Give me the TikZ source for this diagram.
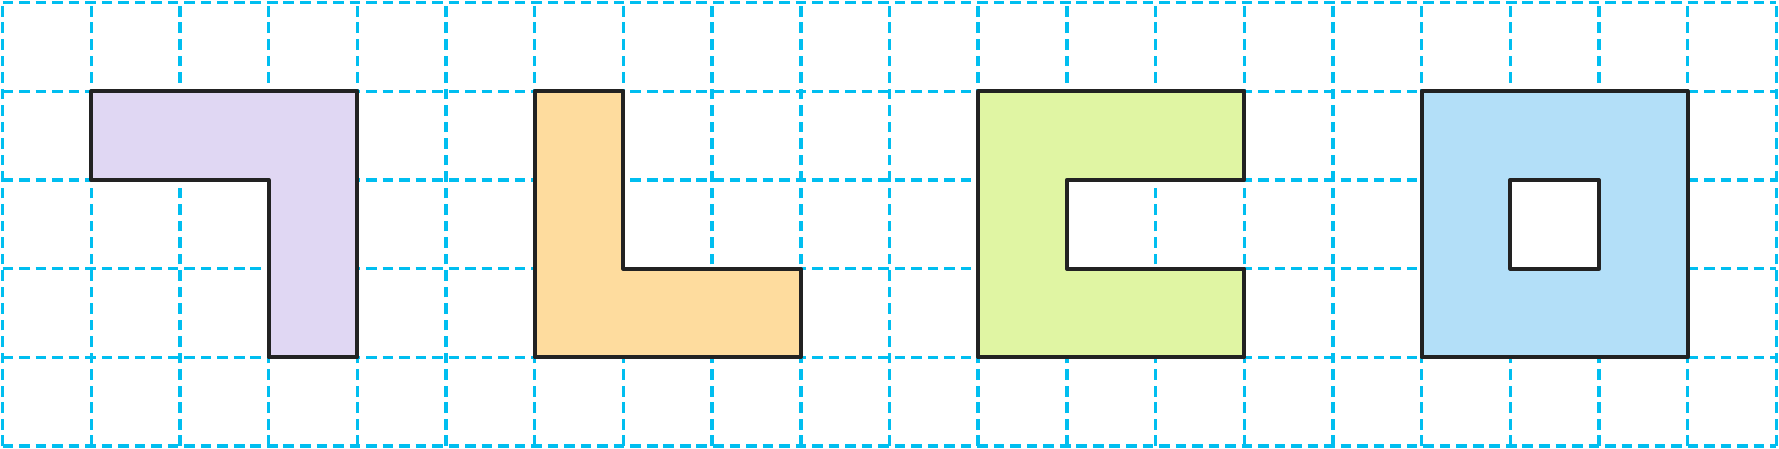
\documentclass[tikz,border=0pt]{standalone}
\usepackage{tikz}

\definecolor{gridblue}{HTML}{00BEF0}
\definecolor{shapepurple}{HTML}{E0D7F3}
\definecolor{shapeorange}{HTML}{FEDC9E}
\definecolor{shapegreen}{HTML}{E0F5A3}
\definecolor{shapeblue}{HTML}{B3DFF8}
\definecolor{edgedark}{HTML}{222222}

\begin{document}
\begin{tikzpicture}[thick]
	\tikzset{gridline/.style={draw=gridblue, line width=1.1pt, dash pattern=on 3.4pt off 1.9pt},
		piece/.style={draw=edgedark, line width=1.3pt, line join=round}}
	\useasboundingbox (-0.03,-0.03) rectangle (20.03,5.03);

	% grid
	\foreach \x in {0,...,20}
		\draw[gridline] (\x,0) -- (\x,5);
	\foreach \y in {0,...,5}
		\draw[gridline] (0,\y) -- (20,\y);

	% pieces (y counted from the bottom)
	\filldraw[piece, fill=shapepurple] (1,4) -- (4,4) -- (4,1) -- (3,1) -- (3,3) -- (1,3) -- cycle;
	\filldraw[piece, fill=shapeorange] (6,4) -- (7,4) -- (7,2) -- (9,2) -- (9,1) -- (6,1) -- cycle;
	\filldraw[piece, fill=shapegreen] (11,4) -- (14,4) -- (14,3) -- (12,3) -- (12,2) -- (14,2) -- (14,1) -- (11,1) -- cycle;
	\filldraw[piece, fill=shapeblue, even odd rule] (16,1) rectangle (19,4) (17,2) rectangle (18,3);
\end{tikzpicture}
\end{document}
